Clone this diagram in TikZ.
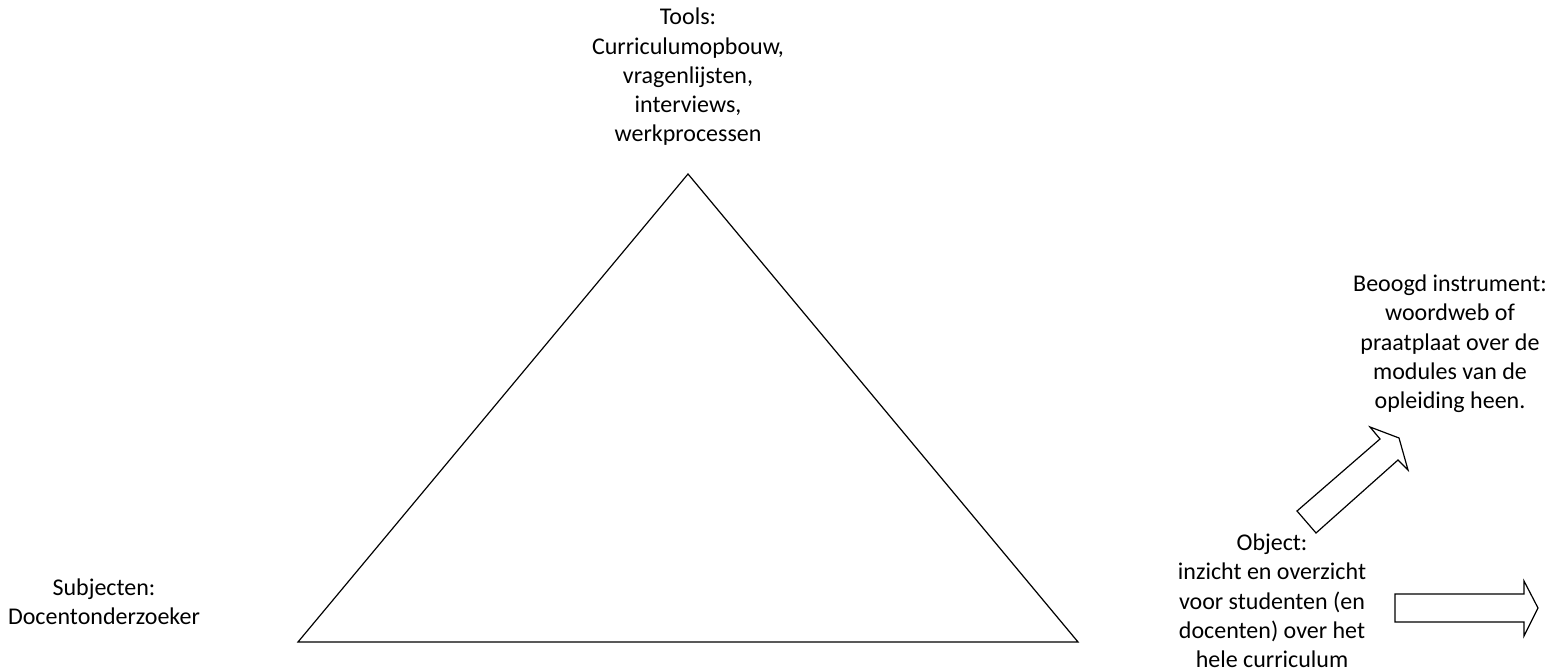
\documentclass[tikz,border=0pt]{standalone}
\usepackage{fontspec}
\setmainfont{Carlito}
\begin{document}
\begin{tikzpicture}[x=1pt,y=1pt,
  lbl/.style={align=center,inner sep=0pt,font=\fontsize{24}{29.3}\selectfont},
  outline/.style={draw=black,line width=1.2pt,line join=miter}]
\useasboundingbox (0,0) rectangle (1557,668);
% activity triangle
\coordinate (apex) at (688,494);
\coordinate (bl) at (298,26);
\coordinate (br) at (1078,26);
\draw[outline] (apex) -- (br) -- (bl) -- cycle;
% labels
\node[lbl] (tools) at (688,591) {Tools:\\Curriculumopbouw,\\vragenlijsten,\\interviews,\\werkprocessen};
\node[lbl] (subj) at (104,66) {Subjecten:\\Docentonderzoeker};
\node[lbl] (obj) at (1272,67) {Object:\\inzicht en overzicht\\voor studenten (en\\docenten) over het\\hele curriculum};
\node[lbl] (goal) at (1450,324) {Beoogd instrument:\\woordweb of\\praatplaat over de\\modules van de\\opleiding heen.};
% block arrows
\draw[outline] (1297,157) -- (1380,229) -- (1370,241) -- (1399,230) -- (1408,198) -- (1398,208) -- (1316,135) -- cycle;
\draw[outline] (1395,74) -- (1524,74) -- (1524,87) -- (1538,60) -- (1524,32) -- (1524,46) -- (1395,46) -- cycle;
\end{tikzpicture}
\end{document}
